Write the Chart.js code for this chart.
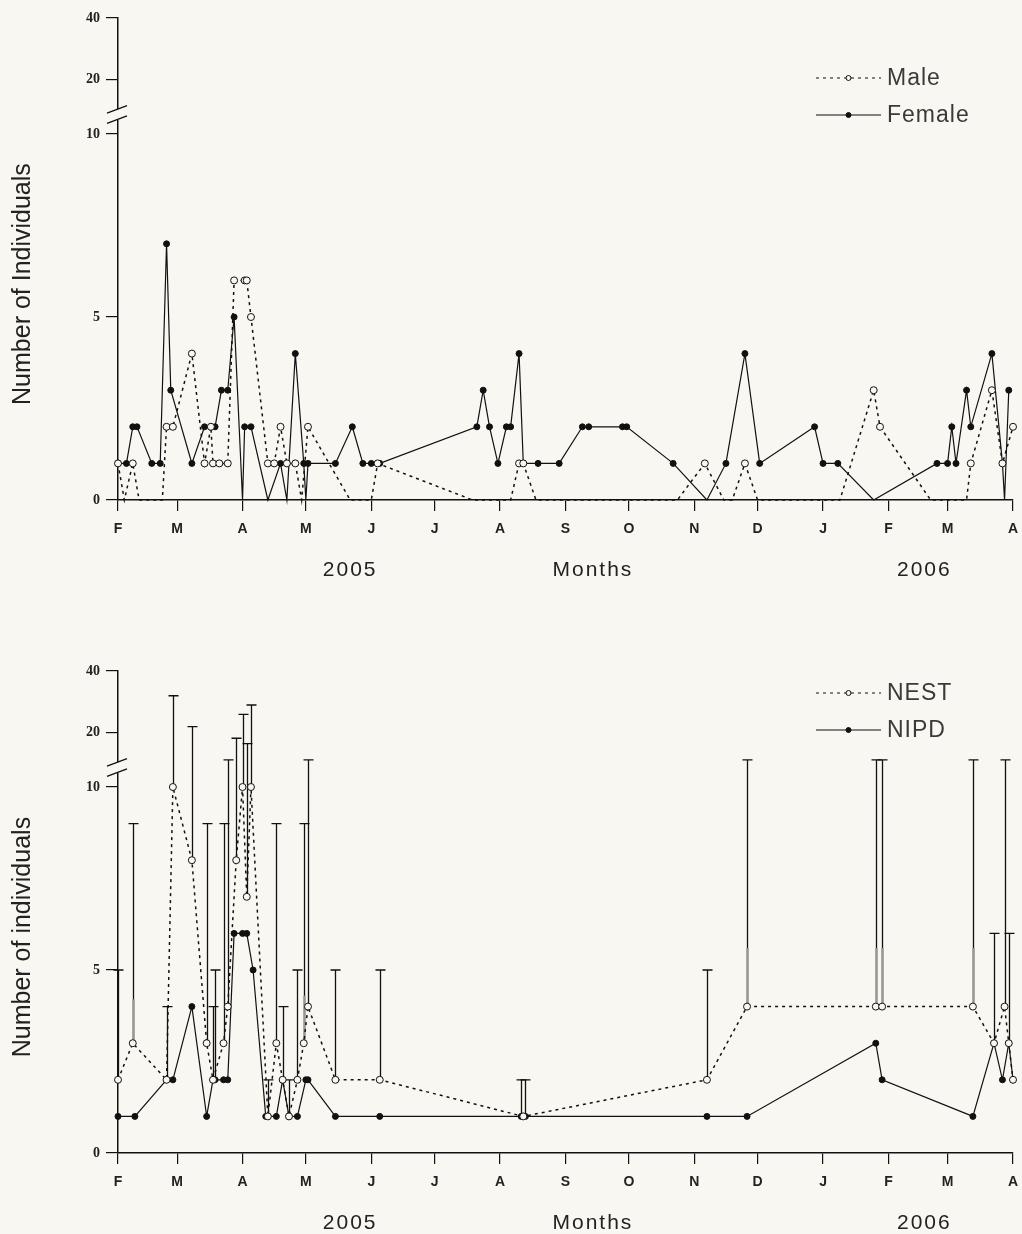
<!DOCTYPE html>
<html>
<head>
<meta charset="utf-8">
<script src="https://cdn.jsdelivr.net/npm/chart.js@4.4.1/dist/chart.umd.min.js"></script>
<style>
  body { margin: 0; background: #f8f7f1; }
  .panel { position: absolute; left: 0; width: 1022px; }
</style>
</head>
<body>
<div class="panel" style="top:0;height:653px"><canvas id="sexChart"></canvas></div>
<div class="panel" style="top:653px;height:581px"><canvas id="nestChart"></canvas></div>
<script>
// x values are days since 1 Feb 2005
const monthDays = [0, 28, 59, 89, 120, 150, 181, 212, 242, 273, 303, 334, 365, 393, 424];
const monthLabels = ['F', 'M', 'A', 'M', 'J', 'J', 'A', 'S', 'O', 'N', 'D', 'J', 'F', 'M', 'A'];
const yTickValues = [0, 5, 10, 20, 40];
const yearLabels = ['2005', 'Months', '2006'];
const yearDays = [110, 225, 382];

// top panel
const maleDays = [0, 3, 7, 10, 21, 23, 26, 35, 41, 44, 45, 48, 52, 55, 60, 61, 63, 71, 74, 77, 80, 84, 87, 90, 110, 120, 123, 168, 186, 190, 192, 198, 265, 278, 287, 291, 297, 303, 342, 358, 361, 385, 402, 404, 414, 419, 424];
const maleCounts = [1, 0, 1, 0, 0, 2, 2, 4, 1, 2, 1, 1, 1, 6, 6, 6, 5, 1, 1, 2, 1, 1, 0, 2, 0, 0, 1, 0, 0, 1, 1, 0, 0, 1, 0, 0, 1, 0, 0, 3, 2, 0, 0, 1, 3, 1, 2];
const femaleDays = [0, 4, 7, 9, 16, 20, 23, 25, 35, 41, 44, 46, 49, 52, 55, 59, 60, 63, 71, 77, 80, 84, 88, 89, 90, 103, 111, 116, 120, 124, 170, 173, 176, 180, 184, 186, 190, 192, 199, 209, 220, 223, 239, 241, 263, 279, 288, 297, 304, 330, 334, 341, 358, 388, 393, 395, 397, 402, 404, 414, 419, 420, 422];
const femaleCounts = [1, 1, 2, 2, 1, 1, 7, 3, 1, 2, 2, 2, 3, 3, 5, 0, 2, 2, 0, 1, 0, 4, 1, 0, 1, 1, 2, 1, 1, 1, 2, 3, 2, 1, 2, 2, 4, 1, 1, 1, 2, 2, 2, 2, 1, 0, 1, 4, 1, 2, 1, 1, 0, 1, 1, 2, 1, 3, 2, 4, 1, 0, 3];

// bottom panel
const nestDays = [0, 7, 23, 26, 35, 42, 45, 50, 52, 56, 59, 61, 63, 71, 75, 78, 81, 85, 88, 90, 103, 124, 192, 279, 298, 359, 362, 405, 415, 420, 422, 424];
const nestCounts = [2, 3, 2, 10, 8, 3, 2, 3, 4, 8, 10, 7, 10, 1, 3, 2, 1, 2, 3, 4, 2, 2, 1, 2, 4, 4, 4, 4, 3, 4, 3, 2];
const nipdDays = [0, 8, 23, 26, 35, 42, 45, 46, 50, 52, 55, 59, 61, 64, 70, 75, 78, 81, 85, 89, 90, 103, 124, 191, 193, 279, 298, 359, 362, 405, 415, 419, 422, 424];
const nipdCounts = [1, 1, 2, 2, 4, 1, 2, 2, 2, 2, 6, 6, 6, 5, 1, 1, 2, 1, 1, 2, 2, 1, 1, 1, 1, 1, 1, 3, 2, 1, 3, 2, 3, 2];

// upper error bars (NEST)
const barDays = [0, 7, 23, 26, 35, 42, 45, 46, 50, 52, 56, 59, 61, 63, 71, 75, 78, 81, 85, 88, 90, 103, 124, 191, 193, 279, 298, 359, 362, 405, 415, 420, 422];
const barBase = [2, 3, 2, 10, 8, 3, 2, 2, 3, 4, 8, 10, 7, 10, 1, 3, 2, 1, 2, 3, 4, 2, 2, 1, 1, 2, 4, 4, 4, 4, 3, 4, 3];
const barTop = [5, 9, 4, 32, 22, 9, 4, 5, 9, 15, 19, 26, 18, 29, 2, 9, 4, 2, 5, 9, 15, 5, 5, 2, 2, 5, 15, 15, 15, 15, 6, 15, 6];
// faint grey inner part of some bars
const greyDays = [7, 88, 298, 359, 362, 405];
const greyBase = [3, 3, 4, 4, 4, 4];
const greyTop = [4.2, 4.3, 5.6, 5.6, 5.6, 5.6];

const BG = '#f8f7f1';
const INK = '#111';

// broken y axis: 0-10 full scale, 10-20 and 20-40 squeezed
function breakY(v) {
  if (v <= 10) return v;
  if (v <= 20) return 10 + (v - 10) * 0.148;
  return 11.48 + (v - 20) * 0.0845;
}

function series(days, counts) {
  return days.map((d, i) => ({ x: d, y: breakY(counts[i]) }));
}

function zeroless(r) {
  return ctx => (ctx.raw && ctx.raw.y === 0) ? 0 : r;
}

function makeDecor(cfg) {
  return {
    id: 'decor',
    beforeDatasetsDraw(chart) {
      const { ctx } = chart;
      const xs = chart.scales.x, ys = chart.scales.y;
      if (cfg.bars) {
        ctx.save();
        ctx.strokeStyle = INK;
        ctx.lineWidth = 1.3;
        cfg.bars.days.forEach((d, i) => {
          const px = Math.round(xs.getPixelForValue(d)) + 0.5;
          const y0 = ys.getPixelForValue(breakY(cfg.bars.base[i]));
          const y1 = ys.getPixelForValue(breakY(cfg.bars.top[i]));
          ctx.beginPath();
          ctx.moveTo(px, y0);
          ctx.lineTo(px, y1);
          ctx.moveTo(px - 5, y1);
          ctx.lineTo(px + 5, y1);
          ctx.stroke();
        });
        ctx.strokeStyle = 'rgba(165,165,160,0.9)';
        ctx.lineWidth = 3;
        cfg.grey.days.forEach((d, i) => {
          const px = Math.round(xs.getPixelForValue(d)) + 0.5;
          ctx.beginPath();
          ctx.moveTo(px, ys.getPixelForValue(breakY(cfg.grey.base[i])));
          ctx.lineTo(px, ys.getPixelForValue(breakY(cfg.grey.top[i])));
          ctx.stroke();
        });
        ctx.restore();
      }
    },
    afterDraw(chart) {
      const { ctx, chartArea } = chart;
      const xs = chart.scales.x, ys = chart.scales.y;
      ctx.save();

      // axis break
      const left = chartArea.left;
      const bUp = ys.getPixelForValue(10.68), bLo = ys.getPixelForValue(10.4);
      ctx.fillStyle = BG;
      ctx.fillRect(left - 2, bUp, 4, bLo - bUp);
      ctx.strokeStyle = INK;
      ctx.lineWidth = 1.3;
      [bUp, bLo].forEach(by => {
        ctx.beginPath();
        ctx.moveTo(left - 11, by + 4);
        ctx.lineTo(left + 9, by - 3.5);
        ctx.stroke();
      });

      // legend
      chart.data.datasets.forEach((ds, i) => {
        const ly = chartArea.top + cfg.legendTop + i * 37;
        ctx.strokeStyle = INK;
        ctx.lineWidth = 1.2;
        ctx.setLineDash(ds.borderDash || []);
        ctx.beginPath();
        ctx.moveTo(816, ly);
        ctx.lineTo(881, ly);
        ctx.stroke();
        ctx.setLineDash([]);
        ctx.beginPath();
        ctx.arc(848.5, ly, 2.5, 0, Math.PI * 2);
        ctx.fillStyle = ds.pointBackgroundColor;
        ctx.fill();
        ctx.lineWidth = 1;
        ctx.stroke();
        ctx.fillStyle = '#3a3a3a';
        ctx.font = '23px "Liberation Sans", Arial, sans-serif';
        ctx.letterSpacing = '1px';
        ctx.textAlign = 'left';
        ctx.textBaseline = 'middle';
        ctx.fillText(ds.label, 887, ly + 1);
      });

      // year and axis labels under the x axis
      ctx.fillStyle = '#222';
      ctx.font = '21px "Liberation Sans", Arial, sans-serif';
      ctx.letterSpacing = '2px';
      ctx.textAlign = 'center';
      ctx.textBaseline = 'middle';
      yearLabels.forEach((t, i) => {
        ctx.fillText(t, xs.getPixelForValue(yearDays[i]), chartArea.bottom + 70);
      });

      // y title
      ctx.letterSpacing = '0px';
      ctx.font = '25px "Liberation Sans", Arial, sans-serif';
      ctx.translate(23, ys.getPixelForValue(5.9));
      ctx.rotate(-Math.PI / 2);
      ctx.fillText(cfg.yTitle, 0, 0);
      ctx.restore();
    }
  };
}

function makeChart(canvasId, datasets, cfg) {
  return new Chart(document.getElementById(canvasId), {
    type: 'line',
    data: { datasets },
    options: {
      responsive: true,
      maintainAspectRatio: false,
      animation: false,
      events: [],
      layout: { padding: { top: 18, right: 9, left: 0, bottom: 0 } },
      plugins: { legend: { display: false }, tooltip: { enabled: false } },
      scales: {
        x: {
          type: 'linear',
          min: 0,
          max: 424,
          afterBuildTicks: s => { s.ticks = monthDays.map(d => ({ value: d })); },
          afterFit: s => { s.height = cfg.xHeight; s.paddingLeft = 0; s.paddingRight = 0; },
          ticks: {
            autoSkip: false,
            maxRotation: 0,
            padding: 10,
            color: '#222',
            font: { family: '"Liberation Sans", Arial, sans-serif', size: 14, weight: 'bold' },
            callback: (v, i) => monthLabels[i]
          },
          grid: { drawOnChartArea: false, drawTicks: true, tickLength: 11, color: INK, lineWidth: 1.2 },
          border: { display: true, color: INK, width: 1.5 }
        },
        y: {
          type: 'linear',
          min: 0,
          max: breakY(40),
          afterBuildTicks: s => { s.ticks = yTickValues.map(v => ({ value: breakY(v) })); },
          afterFit: s => { s.width = 118; },
          ticks: {
            padding: 6,
            color: '#222',
            font: { family: '"Liberation Serif", serif', size: 14, weight: 'bold' },
            callback: (v, i) => yTickValues[i]
          },
          grid: { drawOnChartArea: false, drawTicks: true, tickLength: 12, color: INK, lineWidth: 1.2 },
          border: { display: true, color: INK, width: 1.5 }
        }
      }
    },
    plugins: [makeDecor(cfg)]
  });
}

function dottedSet(label, days, counts) {
  return {
    label, data: series(days, counts), clip: false, tension: 0,
    borderColor: INK, borderWidth: 1.5, borderDash: [3, 4],
    pointBackgroundColor: BG, pointBorderColor: INK, pointBorderWidth: 1,
    pointRadius: zeroless(3.5)
  };
}

function solidSet(label, days, counts) {
  return {
    label, data: series(days, counts), clip: false, tension: 0,
    borderColor: INK, borderWidth: 1.2,
    pointBackgroundColor: INK, pointBorderColor: INK, pointBorderWidth: 1,
    pointRadius: zeroless(3)
  };
}

makeChart('sexChart',
  [dottedSet('Male', maleDays, maleCounts), solidSet('Female', femaleDays, femaleCounts)],
  { xHeight: 153, legendTop: 60, yTitle: 'Number of Individuals' });

makeChart('nestChart',
  [dottedSet('NEST', nestDays, nestCounts), solidSet('NIPD', nipdDays, nipdCounts)],
  {
    xHeight: 81, legendTop: 22, yTitle: 'Number of individuals',
    bars: { days: barDays, base: barBase, top: barTop },
    grey: { days: greyDays, base: greyBase, top: greyTop }
  });
</script>
</body>
</html>
